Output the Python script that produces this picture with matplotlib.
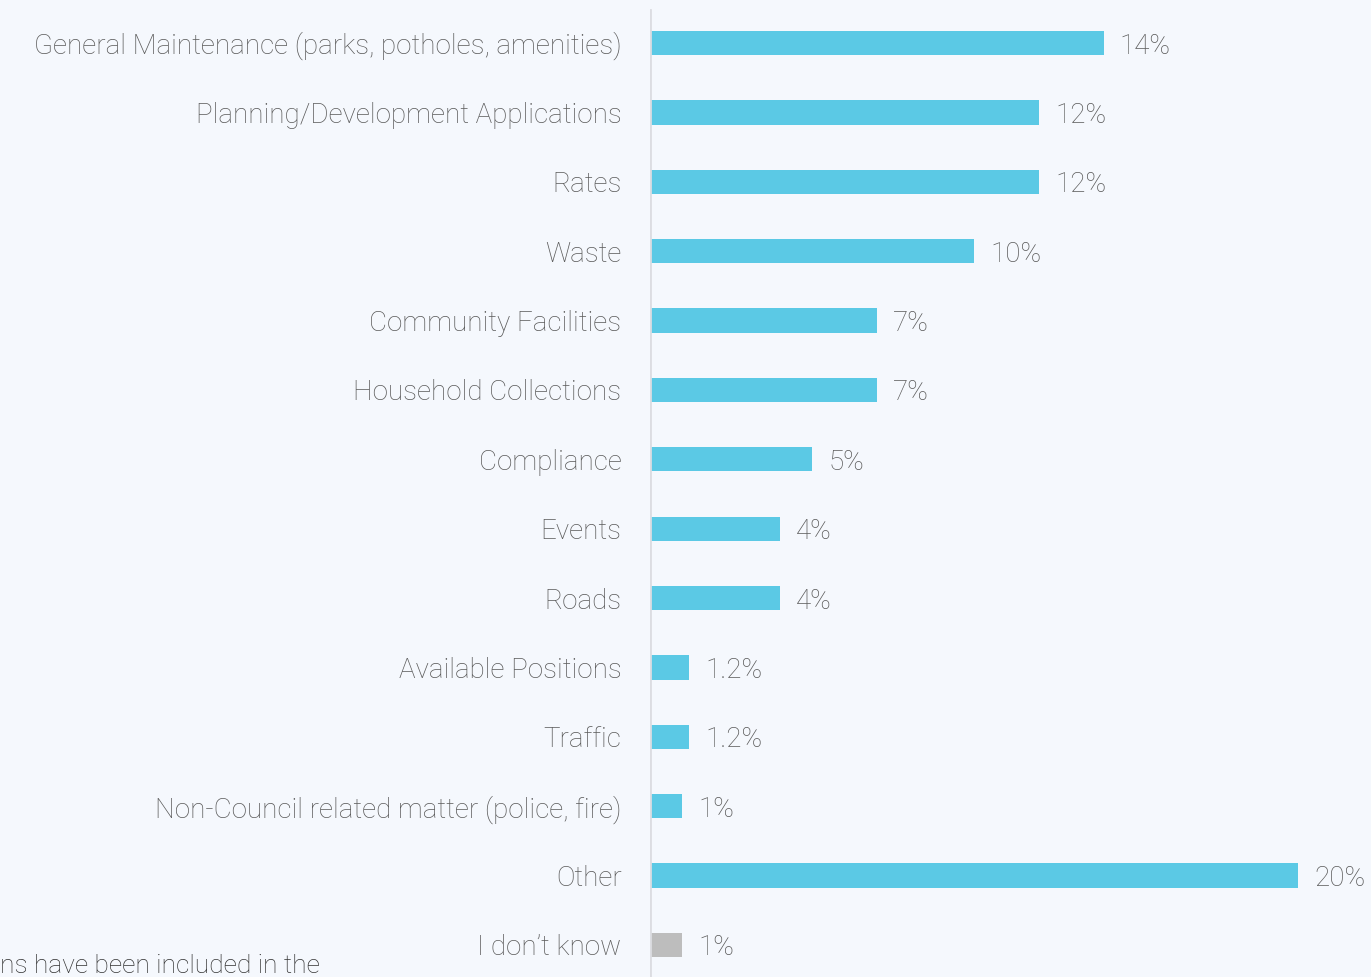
import matplotlib.pyplot as plt

# Topics raised, share of mentions (%)
categories = [
    "General Maintenance (parks, potholes, amenities)",
    "Planning/Development Applications",
    "Rates",
    "Waste",
    "Community Facilities",
    "Household Collections",
    "Compliance",
    "Events",
    "Roads",
    "Available Positions",
    "Traffic",
    "Non-Council related matter (police, fire)",
    "Other",
    "I don\u2019t know",
]
values = [14, 12, 12, 10, 7, 7, 5, 4, 4, 1.2, 1.2, 1, 20, 1]
value_labels = ["14%", "12%", "12%", "10%", "7%", "7%", "5%", "4%", "4%",
                "1.2%", "1.2%", "1%", "20%", "1%"]

BG = "#f5f8fd"
BAR = "#5bc9e5"
GREY = "#bdbdbd"
TEXT = "#5a5a5a"

plt.rcParams['font.family'] = ['Roboto', 'DejaVu Sans']

fig = plt.figure(figsize=(13.71, 9.77), dpi=100, facecolor=BG)
ax = fig.add_axes([650 / 1371, 0, 1 - 650 / 1371, 1], facecolor=BG)

colors = [GREY if c.startswith("I don") else BAR for c in categories]
y = range(len(categories))
ax.barh(y, values, height=0.35, color=colors, left=0)

for yi, v, lab in zip(y, values, value_labels):
    ax.text(v + 0.5, yi, lab, va="center_baseline", ha="left", fontsize=20,
            color=TEXT, fontweight="light")

ax.set_yticks(list(y))
ax.set_yticklabels(categories, fontsize=20, color=TEXT, fontweight="light",
                   va="center_baseline")
ax.tick_params(axis="y", length=0, pad=20.5)
ax.set_xticks([])

ax.set_xlim(0, (1371 - 650) / 32.4)
ax.set_ylim(13 + 32 / 69.38, -43 / 69.38)

for s in ax.spines.values():
    s.set_visible(False)
ax.axvline(0, ymin=0, ymax=(977 - 10) / 977, color="#dcdde2", lw=2)

fig.text(0, 4 / 977, "ns have been included in the", fontsize=19,
         color="#333333", ha="left", va="baseline", fontweight="light")

fig.savefig("out.png", dpi=100, facecolor=BG)
